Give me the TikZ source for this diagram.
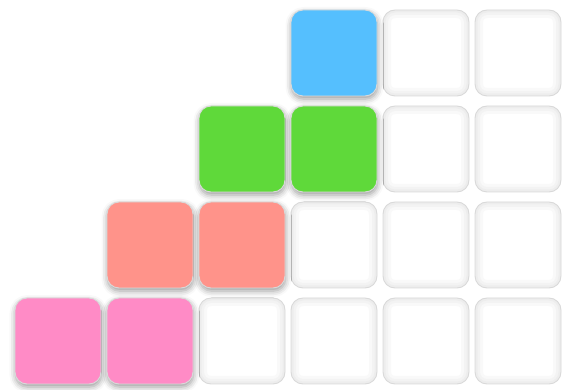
\documentclass[tikz,border=0pt]{standalone}
\usetikzlibrary{shadows.blur}
\definecolor{tileblue}{HTML}{55BFFE}
\definecolor{tilegreen}{HTML}{5FD93A}
\definecolor{tilesalmon}{HTML}{FF938A}
\definecolor{tilepink}{HTML}{FF8BC6}
\begin{document}
\begin{tikzpicture}[x=1pt,y=-1pt,
  tile/.style={rounded corners=12pt,minimum size=86pt,inner sep=0pt,draw=black!15,line width=0.9pt},
  full/.style={tile,blur shadow={shadow xshift=0.5pt,shadow yshift=-3pt,shadow blur radius=6pt,shadow opacity=40}},
  empty/.style={tile,fill=white,path picture={\foreach \w in {5,10,16}
    \draw[black,opacity=0.022,line width=\w pt,rounded corners=12pt](path picture bounding box.south west)rectangle(path picture bounding box.north east);}}]
\useasboundingbox (0,0) rectangle (566,390);
% empty cells: first column of each row
\foreach \r/\c in {0/4,1/4,2/3,3/2}{\foreach \cc in {\c,...,5}
\node[empty](e-\r-\cc)at(58+92*\cc,53+96*\r){};}
% coloured cells
\foreach \r/\c/\col in {0/3/tileblue,1/2/tilegreen,1/3/tilegreen,2/1/tilesalmon,2/2/tilesalmon,3/0/tilepink,3/1/tilepink}
\node[full,fill=\col](f-\r-\c)at(58+92*\c,53+96*\r){};
\end{tikzpicture}
\end{document}
